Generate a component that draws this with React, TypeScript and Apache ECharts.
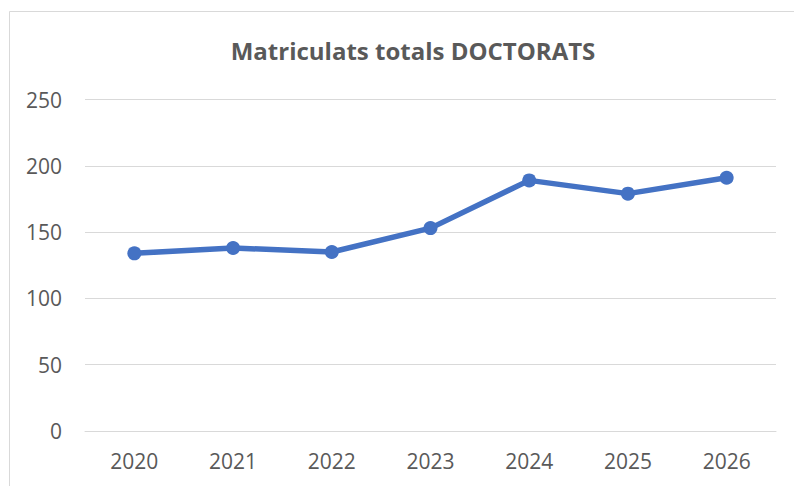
import React, { useEffect, useRef } from "react";
import * as echarts from "echarts";

const TITLE = "Matriculats totals DOCTORATS";
const YEARS = ["2020", "2021", "2022", "2023", "2024", "2025", "2026"];
const VALUES = [134, 138, 135, 153, 189, 179, 191];
const Y_MIN = 0;
const Y_MAX = 250;
const Y_STEP = 50;

const FONT = "'Open Sans', 'Liberation Sans', sans-serif";

export default function App() {
  const ref = useRef<HTMLDivElement>(null);
  useEffect(() => {
    if (!ref.current) return;
    const chart = echarts.init(ref.current, null, { renderer: "svg" });
    chart.setOption({
      animation: false,
      backgroundColor: "#ffffff",
      title: {
        text: TITLE,
        left: 408,
        textAlign: "center",
        top: 33,
        textStyle: { fontFamily: FONT, fontSize: 24, fontWeight: "bold", color: "#595959" },
      },
      graphic: [
        {
          type: "rect",
          shape: { x: 9.5, y: 11.5, width: 800, height: 500 },
          style: { fill: "none", stroke: "#d9d9d9", lineWidth: 1 },
          silent: true,
        },
      ],
      grid: { left: 85, right: 18, top: 99.5, bottom: 55 },
      xAxis: {
        type: "category",
        data: YEARS,
        boundaryGap: true,
        axisLine: { show: true, lineStyle: { color: "#d9d9d9", width: 1 } },
        axisTick: { show: false },
        axisLabel: { fontFamily: FONT, fontSize: 21, color: "#595959", margin: 19 },
      },
      yAxis: {
        type: "value",
        min: Y_MIN,
        max: Y_MAX,
        interval: Y_STEP,
        axisLine: { show: false },
        axisTick: { show: false },
        splitLine: { lineStyle: { color: "#d9d9d9", width: 1 } },
        axisLabel: { fontFamily: FONT, fontSize: 21, color: "#595959", margin: 23 },
      },
      series: [
        {
          type: "line",
          data: VALUES,
          symbol: "circle",
          symbolSize: 14,
          lineStyle: { color: "#4472c4", width: 5.5 },
          itemStyle: { color: "#4472c4" },
        },
      ],
    });
    return () => chart.dispose();
  }, []);
  return (
    <div
      ref={ref}
      style={{ position: "absolute", left: 0, top: 0, width: 794, height: 486, background: "#fff" }}
    />
  );
}
